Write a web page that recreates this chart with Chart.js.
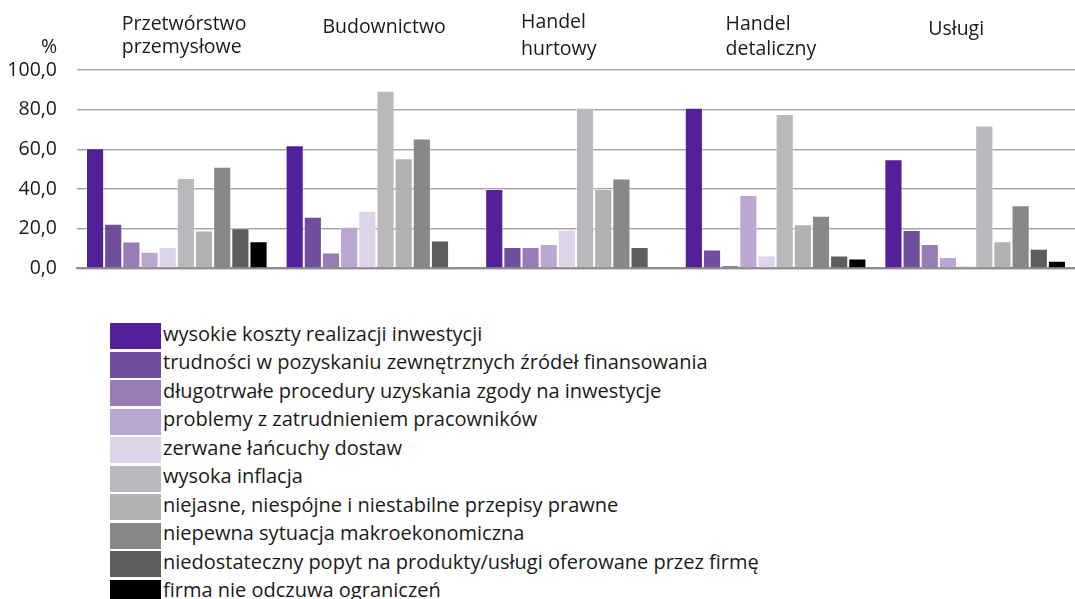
<!DOCTYPE html>
<html>
<head>
<meta charset="utf-8">
<script src="https://cdn.jsdelivr.net/npm/chart.js@4/dist/chart.umd.min.js"></script>
<style>
    body { margin: 0; background: #fff; font-family: "Open Sans", sans-serif; }
    #wrap { position: relative; width: 1075px; height: 599px; overflow: hidden; }
    #box { position: absolute; left: 0; top: 0; width: 1075px; height: 300px; }
    #legend { position: absolute; left: 110px; top: 322px; }
    .row { display: flex; align-items: center; height: 28.5px; }
    .sw { width: 51px; height: 26px; margin-right: 2px; flex: none; }
    .lbl { font-size: 20px; color: #1a1a1a; white-space: nowrap; position: relative; top: -3px; }
</style>
</head>
<body>
<div id="wrap">
    <div id="box"><canvas id="chart"></canvas></div>
    <div id="legend"></div>
</div>
<script>
const categories = [
    ['Przetwórstwo', 'przemysłowe'],
    ['Budownictwo'],
    ['Handel', 'hurtowy'],
    ['Handel', 'detaliczny'],
    ['Usługi']
];
const yTicks = [0, 20, 40, 60, 80, 100];

const seriesNames = [
    'wysokie koszty realizacji inwestycji',
    'trudności w pozyskaniu zewnętrznych źródeł finansowania',
    'długotrwałe procedury uzyskania zgody na inwestycje',
    'problemy z zatrudnieniem pracowników',
    'zerwane łańcuchy dostaw',
    'wysoka inflacja',
    'niejasne, niespójne i niestabilne przepisy prawne',
    'niepewna sytuacja makroekonomiczna',
    'niedostateczny popyt na produkty/usługi oferowane przez firmę',
    'firma nie odczuwa ograniczeń'
];

const wysokieKoszty   = [60.5, 62.0, 40.0, 81.0, 55.0];
const trudnosci       = [22.5, 26.0, 10.7,  9.5, 19.3];
const procedury       = [13.5,  8.0, 10.7,  1.7, 12.2];
const zatrudnienie    = [ 8.3, 21.0, 12.2, 37.0,  5.7];
const lancuchy        = [10.7, 29.0, 19.5,  6.5,  1.5];
const inflacja        = [45.5, 89.5, 81.0, 77.8, 72.0];
const przepisy        = [19.0, 55.5, 40.0, 22.2, 13.7];
const makro           = [51.2, 65.5, 45.3, 26.5, 31.8];
const popyt           = [20.2, 14.0, 10.8,  6.4,  9.8];
const brakOgraniczen  = [13.7, null, null,  5.0,  3.8];

const colors = ['#52209a', '#6f4f9c', '#987cb6', '#baa8d3', '#ddd4ea',
                '#b9b8bd', '#b2b2b2', '#878887', '#5e5e5e', '#000000'];

const allSeries = [wysokieKoszty, trudnosci, procedury, zatrudnienie, lancuchy,
                   inflacja, przepisy, makro, popyt, brakOgraniczen];

const FONT = '"Open Sans", sans-serif';

// etykiety kategorii nad wykresem i znak %
const labelOffsets = [-55, -54, -55, -50, -47];
const labelBaselines = [[30, 53], [33], [28, 55], [30, 55], [35]];
const topLabels = {
    id: 'topLabels',
    afterDraw(chart) {
        const ctx = chart.ctx;
        const x = chart.scales.x;
        ctx.save();
        ctx.font = '19.5px ' + FONT;
        ctx.fillStyle = '#1a1a1a';
        ctx.textAlign = 'left';
        ctx.textBaseline = 'alphabetic';
        categories.forEach((lines, i) => {
            const px = x.getPixelForValue(i) + labelOffsets[i];
            lines.forEach((t, j) => ctx.fillText(t, px, labelBaselines[i][j]));
        });
        ctx.textAlign = 'right';
        ctx.fillText('%', 57, 53);
        ctx.restore();
    }
};

const datasets = seriesNames.map((name, i) => ({
    label: name,
    data: allSeries[i],
    backgroundColor: colors[i],
    borderColor: 'rgba(255,255,255,0.45)',
    borderWidth: 1,
    categoryPercentage: 0.91,
    barPercentage: 1.0
}));

const chart = new Chart(document.getElementById('chart'), {
    type: 'bar',
    data: {
        labels: categories.map(c => c.join(' ')),
        datasets: datasets
    },
    options: {
        responsive: true,
        maintainAspectRatio: false,
        animation: false,
        layout: { padding: { top: 70, bottom: 19, left: 0, right: 0 } },
        plugins: {
            legend: { display: false },
            tooltip: { enabled: false }
        },
        scales: {
            x: {
                grid: { display: false },
                ticks: { display: false },
                border: { color: '#8c8c8c', width: 2 }
            },
            y: {
                min: 0,
                max: 100,
                afterBuildTicks: s => { s.ticks = yTicks.map(v => ({ value: v })); },
                afterFit: s => { s.width = 77; },
                ticks: {
                    padding: 20,
                    color: '#1a1a1a',
                    font: { family: FONT, size: 19.5 },
                    callback: v => v.toFixed(1).replace('.', ',')
                },
                grid: { color: '#a6a6a6', lineWidth: 1.5, drawTicks: false },
                border: { display: false }
            }
        }
    },
    plugins: [topLabels]
});

// legenda w HTML
const legend = document.getElementById('legend');
seriesNames.forEach((name, i) => {
    const row = document.createElement('div');
    row.className = 'row';
    row.innerHTML = `<div class="sw" style="background:${colors[i]}"></div><span class="lbl">${name}</span>`;
    legend.appendChild(row);
});
</script>
</body>
</html>
